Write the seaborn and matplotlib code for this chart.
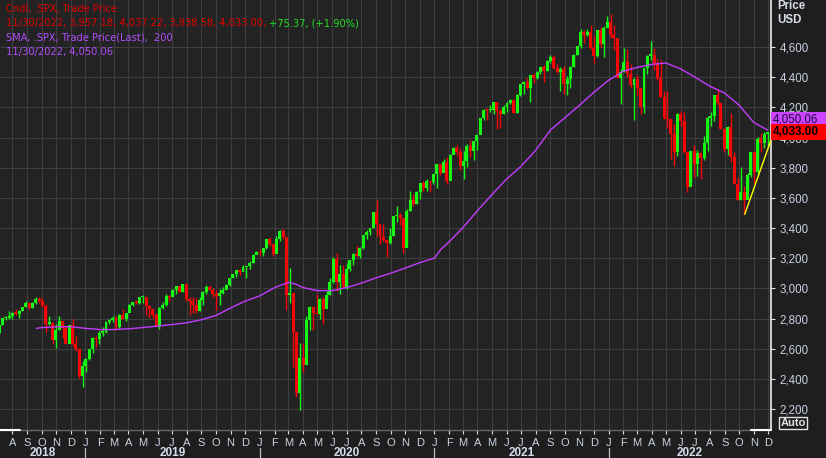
import pandas as pd
import numpy as np
import matplotlib
matplotlib.use("Agg")
import matplotlib.pyplot as plt
import matplotlib.transforms as mtransforms
from matplotlib.patches import Rectangle
import seaborn as sns

# Weekly candles (week ending Friday), split per year
first_open = 2705
close_2018 = [2759, 2801, 2802, 2819, 2840, 2833, 2850, 2875, 2902, 2872, 2905, 2930, 2914,
              2886, 2767, 2768, 2658, 2723, 2781, 2736, 2633, 2760, 2633, 2600, 2417, 2486]
high_2018 = [2764, 2804, 2816, 2848, 2841, 2863, 2855, 2877, 2916, 2903, 2908, 2941, 2940,
             2939, 2894, 2817, 2778, 2767, 2815, 2782, 2746, 2760, 2800, 2685, 2607, 2520]
low_2018 = [2698, 2757, 2789, 2800, 2795, 2825, 2802, 2850, 2876, 2864, 2868, 2899, 2903,
            2874, 2710, 2755, 2628, 2603, 2722, 2670, 2631, 2636, 2621, 2583, 2409, 2346]

close_2019 = [2532, 2596, 2671, 2665, 2707, 2708, 2776, 2793, 2804, 2743, 2822, 2800, 2834,
              2893, 2907, 2905, 2940, 2946, 2881, 2860, 2826, 2752, 2873, 2887, 2950, 2942,
              2990, 3014, 2977, 3026, 2932, 2919, 2889, 2847, 2926, 2979, 3007, 2992, 2962,
              2952, 2970, 2986, 3023, 3067, 3093, 3120, 3110, 3141, 3146, 3169, 3221, 3240]
high_2019 = [2538, 2598, 2675, 2681, 2716, 2744, 2786, 2795, 2815, 2816, 2830, 2860, 2836,
             2894, 2910, 2918, 2940, 2955, 2931, 2892, 2864, 2840, 2876, 2911, 2964, 2958,
             2996, 3018, 3017, 3028, 3029, 2944, 2944, 2939, 2940, 2985, 3021, 3022, 3002,
             2992, 2993, 3008, 3027, 3067, 3097, 3120, 3127, 3154, 3144, 3182, 3226, 3248]
low_2019 = [2443, 2524, 2574, 2612, 2631, 2681, 2703, 2764, 2775, 2722, 2737, 2800, 2785,
            2848, 2880, 2896, 2898, 2900, 2825, 2801, 2805, 2750, 2729, 2866, 2883, 2913,
            2952, 2966, 2975, 2976, 2914, 2822, 2840, 2834, 2853, 2891, 2964, 2990, 2945,
            2856, 2892, 2960, 2993, 3019, 3067, 3075, 3091, 3115, 3070, 3129, 3166, 3225]

close_2020 = [3235, 3265, 3330, 3295, 3225, 3328, 3380, 3338, 2954, 2972, 2711, 2305, 2541,
              2489, 2790, 2875, 2837, 2831, 2930, 2864, 2955, 3044, 3194, 3041, 3098, 3009,
              3130, 3185, 3225, 3216, 3271, 3351, 3373, 3397, 3508, 3427, 3341, 3319, 3298,
              3348, 3477, 3484, 3465, 3270, 3510, 3585, 3558, 3638, 3699, 3663, 3709, 3703, 3756]
high_2020 = [3259, 3268, 3330, 3338, 3293, 3347, 3385, 3393, 3260, 3137, 2882, 2614, 2637,
             2641, 2818, 2880, 2868, 2965, 2934, 2945, 2981, 3068, 3211, 3233, 3156, 3155,
             3165, 3190, 3236, 3280, 3272, 3352, 3387, 3400, 3509, 3588, 3425, 3428, 3320,
             3398, 3482, 3549, 3502, 3466, 3529, 3645, 3628, 3644, 3699, 3712, 3726, 3712, 3760]
low_2020 = [3212, 3213, 3263, 3280, 3214, 3235, 3315, 3328, 2855, 2901, 2478, 2280, 2192,
            2448, 2571, 2727, 2727, 2821, 2798, 2766, 2913, 2957, 3038, 2984, 2966, 3004,
            2999, 3115, 3152, 3209, 3200, 3260, 3329, 3354, 3398, 3349, 3293, 3313, 3209,
            3297, 3344, 3440, 3420, 3234, 3279, 3512, 3545, 3558, 3594, 3645, 3647, 3636, 3694]

close_2021 = [3825, 3768, 3841, 3714, 3887, 3934, 3907, 3811, 3842, 3943, 3913, 3975, 4020,
              4129, 4185, 4180, 4181, 4233, 4174, 4156, 4204, 4230, 4247, 4166, 4281, 4352,
              4370, 4327, 4412, 4395, 4437, 4468, 4442, 4509, 4535, 4459, 4433, 4455, 4357,
              4391, 4471, 4545, 4605, 4697, 4683, 4698, 4595, 4538, 4712, 4620, 4726, 4766]
high_2021 = [3826, 3823, 3861, 3870, 3894, 3935, 3950, 3929, 3914, 3960, 3983, 3978, 4020,
             4130, 4191, 4195, 4219, 4238, 4237, 4188, 4219, 4233, 4255, 4258, 4286, 4355,
             4372, 4393, 4416, 4430, 4440, 4468, 4480, 4513, 4546, 4548, 4487, 4466, 4475,
             4407, 4475, 4551, 4608, 4718, 4714, 4717, 4743, 4672, 4713, 4732, 4740, 4808]
low_2021 = [3663, 3753, 3790, 3694, 3725, 3891, 3885, 3784, 3723, 3805, 3871, 3853, 3917,
            4035, 4118, 4118, 4171, 4157, 4057, 4061, 4155, 4167, 4222, 4165, 4165, 4278,
            4289, 4322, 4233, 4360, 4385, 4422, 4368, 4442, 4493, 4455, 4428, 4306, 4288,
            4279, 4330, 4465, 4546, 4595, 4630, 4672, 4585, 4495, 4532, 4600, 4531, 4733]

close_2022 = [4677, 4663, 4398, 4432, 4500, 4419, 4349, 4385, 4329, 4204, 4463, 4543, 4546,
              4488, 4393, 4272, 4132, 4123, 4024, 3901, 4158, 4109, 3901, 3675, 3912, 3825,
              3899, 3863, 3962, 4130, 4145, 4280, 4228, 4058, 3924, 4067, 3873, 3693, 3586,
              3640, 3583, 3753, 3901, 3771, 3993, 3965, 4026, 4033]
high_2022 = [4818, 4749, 4659, 4453, 4595, 4590, 4490, 4395, 4416, 4331, 4465, 4546, 4637,
             4593, 4521, 4513, 4309, 4308, 4125, 4090, 4160, 4178, 4169, 3839, 3914, 3950,
             3918, 3880, 4013, 4140, 4167, 4280, 4325, 4203, 4062, 4077, 4160, 3906, 3736,
             3806, 3680, 3762, 3905, 3912, 4001, 4028, 4034, 4037]
low_2022 = [4662, 4582, 4395, 4222, 4435, 4401, 4327, 4114, 4279, 4157, 4161, 4424, 4517,
            4450, 4381, 4267, 4124, 4062, 3859, 3810, 3875, 4074, 3900, 3637, 3705, 3739,
            3742, 3722, 3851, 3910, 4079, 4107, 4218, 4057, 3906, 3886, 3838, 3693, 3585,
            3584, 3491, 3647, 3739, 3698, 3751, 3906, 3933, 3938]

# 200-day SMA
sma_dates = ["2018-09-20", "2018-10-01", "2018-11-01", "2018-12-01", "2019-01-01", "2019-02-01",
             "2019-03-01", "2019-04-01", "2019-05-01", "2019-06-01", "2019-07-01", "2019-08-01",
             "2019-09-01", "2019-10-01", "2019-11-01", "2019-12-01", "2020-01-01", "2020-02-01",
             "2020-03-01", "2020-03-15", "2020-04-01", "2020-05-01", "2020-06-01", "2020-07-01",
             "2020-08-01", "2020-09-01", "2020-10-01", "2020-11-01", "2020-12-01", "2021-01-01",
             "2021-01-15", "2021-02-01", "2021-03-01", "2021-04-01", "2021-05-01", "2021-06-01",
             "2021-07-01", "2021-08-01", "2021-09-01", "2021-10-01", "2021-11-01", "2021-12-01",
             "2022-01-01", "2022-02-01", "2022-03-01", "2022-04-01", "2022-05-01", "2022-06-01",
             "2022-07-01", "2022-08-01", "2022-09-01", "2022-10-01", "2022-11-01", "2022-11-30"]
sma_values = [2735, 2740, 2745, 2746, 2735, 2727, 2727, 2732, 2740, 2750, 2760, 2772,
              2792, 2820, 2870, 2915, 2950, 3005, 3040, 3030, 3005, 2985, 2985, 3005,
              3035, 3070, 3100, 3135, 3170, 3201, 3260, 3310, 3400, 3515, 3620, 3725,
              3808, 3915, 4050, 4130, 4215, 4300, 4380, 4440, 4465, 4485, 4494, 4455,
              4400, 4340, 4295, 4215, 4100, 4050]

# yellow trend line from the October low
trend_dates = ["2022-10-13", "2022-12-11"]
trend_values = [3491, 4020]

price_ticks = [2200, 2400, 2600, 2800, 3000, 3200, 3400, 3600, 3800, 4000, 4200, 4400, 4600]
years = [2018, 2019, 2020, 2021, 2022]

GREEN = "#14f814"
RED = "#f50606"
SMA_COLOR = "#c23cff"
LABEL = "#c9d1e3"
FIG_BG = "#1e1e1e"
AX_BG = "#232323"
GRID = "#3e3e3e"

sns.set_style("dark")
plt.rcParams["font.family"] = ["Liberation Sans", "DejaVu Sans"]

closes = close_2018 + close_2019 + close_2020 + close_2021 + close_2022
highs = high_2018 + high_2019 + high_2020 + high_2021 + high_2022
lows = low_2018 + low_2019 + low_2020 + low_2021 + low_2022
dates = pd.date_range("2018-07-06", periods=len(closes), freq="W-FRI") - pd.Timedelta(days=2)

df = pd.DataFrame({"date": dates, "high": highs, "low": lows, "close": closes})
df["open"] = df["close"].shift(1).fillna(first_open)
colors = np.where(df["close"] >= df["open"], GREEN, RED)

W, H = 826, 458
fig = plt.figure(figsize=(W / 100, H / 100), dpi=100, facecolor=FIG_BG)
ax = fig.add_axes([0, 28 / H, 771 / W, 430 / H])
ax.set_facecolor(AX_BG)

# candles
ax.vlines(df["date"], df["low"], df["high"], colors=colors, linewidth=1.0, zorder=3)
body_low = df[["open", "close"]].min(axis=1)
body_h = (df["close"] - df["open"]).abs().clip(lower=8)
ax.bar(df["date"], body_h, bottom=body_low, width=6.2, color=colors, linewidth=0, zorder=4)

sns.lineplot(x=pd.to_datetime(sma_dates), y=sma_values, ax=ax, color=SMA_COLOR,
             linewidth=1.0, zorder=5)
sns.lineplot(x=pd.to_datetime(trend_dates), y=trend_values, ax=ax, color="#ffff00",
             linewidth=1.0, zorder=6)

x0, x1 = pd.Timestamp("2018-07-06"), pd.Timestamp("2022-12-07")
ax.set_xlim(x0, x1)
ax.set_ylim(2061, 4912)
ax.set_xlabel("")
ax.set_ylabel("")

months = pd.date_range("2018-08-01", "2022-12-01", freq="MS")
ax.set_xticks(months)
ax.set_xticklabels([m.strftime("%b")[0] for m in months])
ax.tick_params(axis="x", bottom=True, length=3, width=0.8, color="#e0e0e0", pad=2.5,
               labelsize=8, labelcolor=LABEL)

ax.yaxis.tick_right()
ax.set_yticks(price_ticks)
ax.set_yticklabels([f"{v:,}" for v in price_ticks])
ax.tick_params(axis="y", right=True, left=False, length=3, width=0.8, color="#e0e0e0",
               pad=3, labelsize=8.3, labelcolor=LABEL)

ax.grid(True, color=GRID, linewidth=0.8)
for side in ["top", "left"]:
    ax.spines[side].set_visible(False)
ax.spines["right"].set_color("#f0f0f0")
ax.spines["right"].set_linewidth(1.2)
ax.spines["bottom"].set_color("#6a6a6a")
ax.spines["bottom"].set_linewidth(1.0)

# scroller marks on the bottom edge
ax.plot([0, 20 / 771], [0, 0], transform=ax.transAxes, color="white", lw=1.5, clip_on=False, zorder=7)
ax.plot([751 / 771, 1], [0, 0], transform=ax.transAxes, color="white", lw=1.5, clip_on=False, zorder=7)

# year band
blend = mtransforms.blended_transform_factory(ax.transData, ax.transAxes)
edges = [x0] + [pd.Timestamp(f"{y}-01-01") for y in years[1:]] + [x1]
for i, y in enumerate(years):
    mid = edges[i] + (edges[i + 1] - edges[i]) / 2
    ax.text(mid, -0.054, str(y), transform=blend, ha="center", va="center",
            fontsize=8.5, fontweight="bold", color="#d5dceb")
for e in edges[1:-1]:
    ax.plot([e, e], [-0.042, -0.07], transform=blend, color="#c0c0c0", lw=0.9, clip_on=False)

# header text
def ftext(px, py, s, **kw):
    return fig.text(px / W, 1 - py / H, s, va="center", **kw)

HDR = dict(fontsize=7.1, family=["DejaVu Sans"])
ftext(6, 9, "Cndl, .SPX, Trade Price", color="#e00000", **HDR)
t2 = ftext(6, 23, "11/30/2022, 3,957.18, 4,037.22, 3,938.58, 4,033.00, ", color="#e00000", **HDR)
ftext(6, 38, "SMA, .SPX, Trade Price(Last),  200", color="#b44cff", **HDR)
ftext(6, 52, "11/30/2022, 4,050.06", color="#b44cff", **HDR)
fig.canvas.draw()
bb = t2.get_window_extent(renderer=fig.canvas.get_renderer())
fig.text(bb.x1 / W, 1 - 23 / H, "+75.37, (+1.90%)", va="center", color="#20e020", **HDR)

ftext(777, 6, "Price", color="#d8dde8", fontsize=8.3, fontweight="bold")
ftext(777, 20, "USD", color="#d8dde8", fontsize=8.3, fontweight="bold")

# last value boxes
fig.add_artist(Rectangle((771 / W, 1 - 127 / H), 55 / W, 15 / H, transform=fig.transFigure,
                         facecolor="#cc44ff", edgecolor="none", zorder=10))
ftext(773, 119.5, "4,050.06", color="#1c0838", fontsize=8.3, zorder=11)
fig.add_artist(Rectangle((771 / W, 1 - 140 / H), 55 / W, 16 / H, transform=fig.transFigure,
                         facecolor="#ff0000", edgecolor="none", zorder=12))
ftext(773, 132, "4,033.00", color="#000000", fontsize=8.5, fontweight="bold", zorder=13)

# Auto button
fig.add_artist(Rectangle((779 / W, 1 - 429 / H), 28 / W, 12 / H, transform=fig.transFigure,
                         facecolor="none", edgecolor="#e0e0e0", lw=1, zorder=10))
fig.text(793 / W, 1 - 423 / H, "Auto", ha="center", va="center", color="#e4e4e4",
         fontsize=8, fontweight="bold", zorder=11)

fig.savefig("out.png", dpi=100, facecolor=FIG_BG)
